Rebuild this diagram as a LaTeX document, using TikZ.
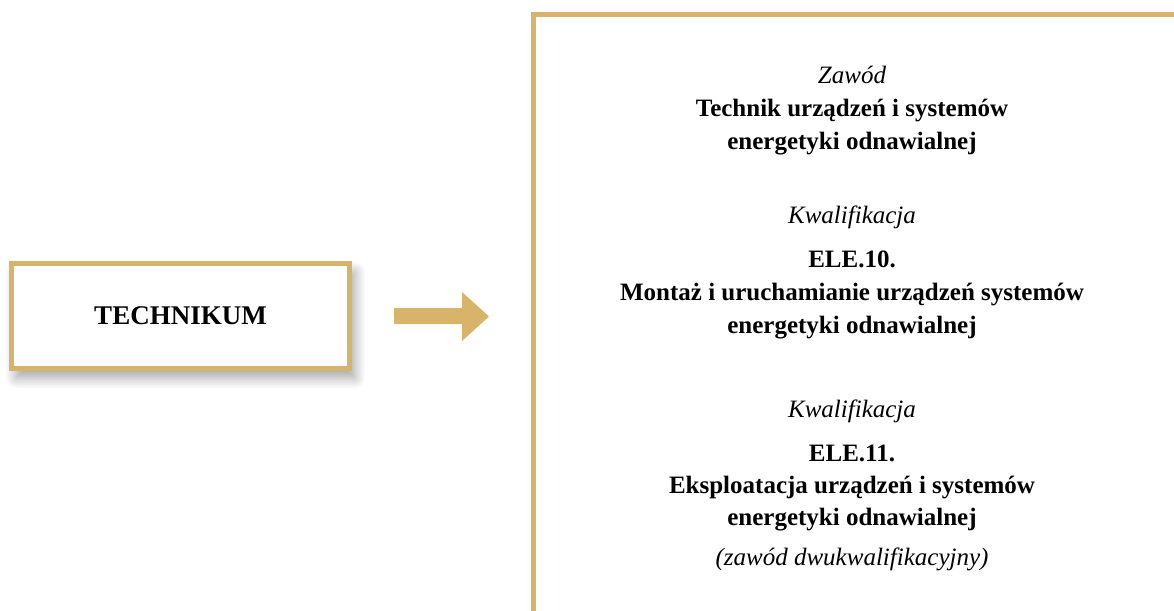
\documentclass[tikz,border=0pt]{standalone}
\usepackage{fontspec}
\setmainfont{Liberation Serif}
\usetikzlibrary{shadows.blur}
\definecolor{gold}{HTML}{D8B46A}
\tikzset{
  txt/.style={inner sep=0pt, anchor=base, font=\fontsize{25}{30}\selectfont},
  lbl/.style={txt, font=\fontsize{25}{30}\selectfont\itshape},
  ttl/.style={txt, font=\fontsize{25}{30}\selectfont\bfseries},
  goldline/.style={draw=gold, line width=5pt},
}
\begin{document}
\begin{tikzpicture}[x=1pt,y=-1pt]
\useasboundingbox (0,0) rectangle (1174,610);
% left box
\node[goldline, fill=white, minimum width=338pt, minimum height=105pt, inner sep=0pt,
  blur shadow={shadow xshift=5pt, shadow yshift=-9pt, shadow blur radius=11pt, shadow blur steps=16, shadow opacity=38},
  font=\fontsize{27}{32}\selectfont\bfseries] (tech) at (180.5,316) {TECHNIKUM};
% arrow
\coordinate (a1) at (394,308);
\coordinate (a2) at (462,308);
\coordinate (a3) at (462,292);
\coordinate (tip) at (489,316.5);
\coordinate (a5) at (462,341);
\coordinate (a6) at (462,324);
\coordinate (a7) at (394,324);
\fill[gold] (a1) -- (a2) -- (a3) -- (tip) -- (a5) -- (a6) -- (a7) -- cycle;
% right panel frame
\coordinate (pb) at (533.5,615);
\coordinate (pc) at (533.5,14.5);
\coordinate (pr) at (1180,14.5);
\draw[goldline, line join=miter] (pb) -- (pc) -- (pr);
% texts
\node[lbl] (z1) at (852,83) {Zawód};
\node[ttl] (z2) at (852,116) {Technik urządzeń i systemów};
\node[ttl] (z3) at (852,149) {energetyki odnawialnej};
\node[lbl] (k1) at (852,223) {Kwalifikacja};
\node[ttl] (k1a) at (852,267) {ELE.10.};
\node[ttl] (k1b) at (852,300) {Montaż i uruchamianie urządzeń systemów};
\node[ttl] (k1c) at (852,333) {energetyki odnawialnej};
\node[lbl] (k2) at (852,417) {Kwalifikacja};
\node[ttl] (k2a) at (852,461) {ELE.11.};
\node[ttl] (k2b) at (852,493) {Eksploatacja urządzeń i systemów};
\node[ttl] (k2c) at (852,525) {energetyki odnawialnej};
\node[lbl] (note) at (852,565) {(zawód dwukwalifikacyjny)};
\end{tikzpicture}
\end{document}
